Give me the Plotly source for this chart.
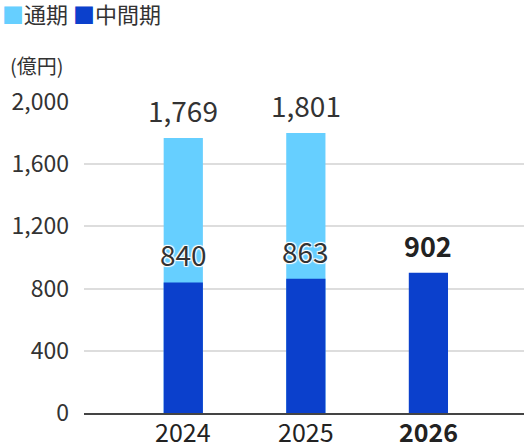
import plotly.graph_objects as go

# 売上高（億円）: 通期 / 中間期
years = ["2024", "2025", "2026"]
year_labels = ["2024", "2025", "<b>2026</b>"]
full_year = [1769, 1801, None]
half_year = [840, 863, 902]
y_ticks = [0, 400, 800, 1200, 1600, 2000]
series_names = ["通期", "中間期"]

LIGHT = "#66CFFF"
DARK = "#0B40CC"
TEXT = "#333333"
FONT = "Noto Sans CJK JP"

fig = go.Figure()
fig.add_trace(go.Bar(x=years, y=full_year, name=series_names[0], marker_color=LIGHT,
                     marker_line_width=0, width=0.32))
fig.add_trace(go.Bar(x=years, y=half_year, name=series_names[1], marker_color=DARK,
                     marker_line_width=0, width=0.32))

# value labels above the bars (category axis -> use the index as x)
halo = "1px 1px 1px white, -1px -1px 1px white, 1px -1px 1px white, -1px 1px 1px white"
for i, v in enumerate(full_year):
    if v is not None:
        fig.add_annotation(x=i, y=v, text=f"{v:,}", showarrow=False, yanchor="bottom",
                           yshift=6, font=dict(size=28, color=TEXT, family=FONT))
for i, v in enumerate(half_year):
    bold = i == len(half_year) - 1
    fig.add_annotation(x=i, y=v, text=f"<b>{v:,}</b>" if bold else f"{v:,}",
                       showarrow=False, yanchor="bottom", yshift=6,
                       font=dict(size=28 if not bold else 27, color="#222222" if bold else TEXT,
                                 family=FONT, shadow="none" if bold else halo))

# year labels under the axis
for i, lab in enumerate(year_labels):
    fig.add_annotation(x=i, y=0, yref="y", text=lab, showarrow=False, yanchor="middle",
                       yshift=-18, font=dict(size=25, color="#222222", family=FONT))

# legend and unit, drawn as text
fig.add_annotation(text=f"<span style='color:{LIGHT}'>■</span>{series_names[0]} "
                        f"<span style='color:{DARK}'>■</span>{series_names[1]}",
                   xref="paper", yref="paper", x=-0.191, y=1.0, yshift=89,
                   xanchor="left", yanchor="middle", showarrow=False,
                   font=dict(size=22, color=TEXT, family=FONT))
fig.add_annotation(text="(億円)", xref="paper", yref="paper", x=-0.107, y=1.0, yshift=37,
                   xanchor="center", yanchor="middle", showarrow=False,
                   font=dict(size=20, color=TEXT, family=FONT))

fig.update_layout(
    width=524, height=444,
    margin=dict(l=84, r=0, t=102, b=31),
    barmode="overlay",
    plot_bgcolor="white", paper_bgcolor="white",
    font=dict(family=FONT, color=TEXT),
    showlegend=False,
    xaxis=dict(type="category", range=[-0.81, 2.78], showticklabels=False,
               showgrid=False, automargin=False,
               showline=True, linecolor="#444444", linewidth=2, ticks=""),
    yaxis=dict(range=[0, 2000], tickvals=y_ticks, tickformat=",",
               tickfont=dict(size=23, color=TEXT), showgrid=True, automargin=False,
               gridcolor="#dddddd", gridwidth=2, zeroline=False, ticks="",
               ticklabelstandoff=14),
)

# drop the browser's default page margin so the chart fills the window
fig.write_html("out.html", config={"displayModeBar": False},
               post_script="document.body.style.margin='0';")
